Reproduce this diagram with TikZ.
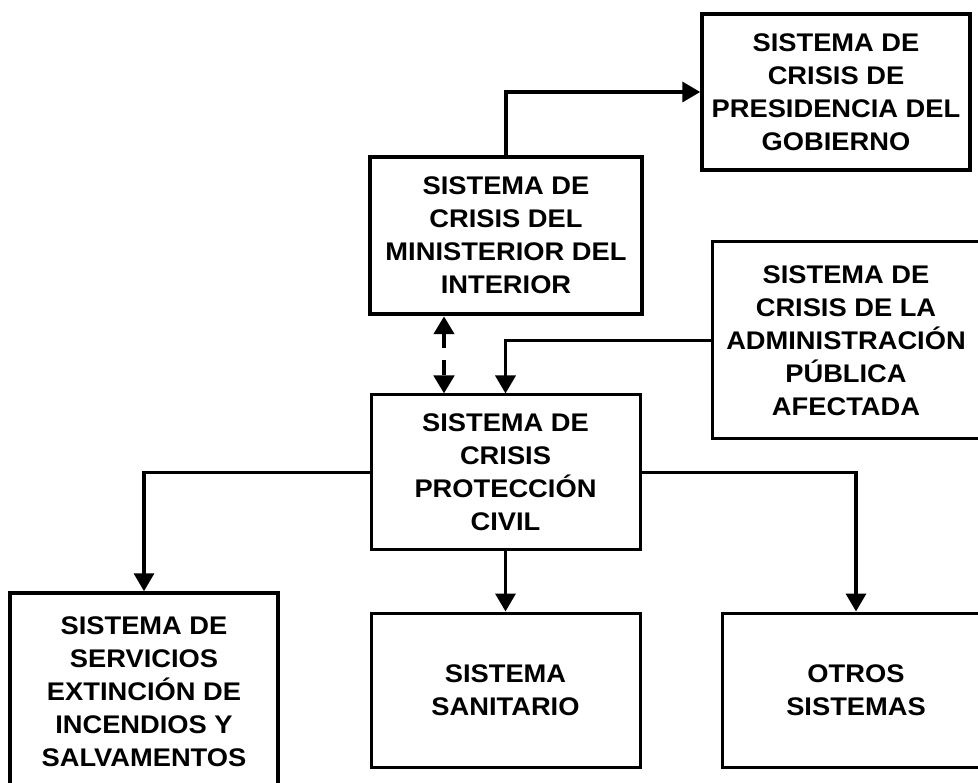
\documentclass[tikz,border=0pt]{standalone}
\usepackage{fontspec}
\setmainfont[FakeStretch=1.07]{Liberation Sans}
\usetikzlibrary{arrows.meta}
\begin{document}
\begin{tikzpicture}[x=1pt,y=-1pt,
  box/.style={draw=black,rectangle,line width=3pt,align=center,inner sep=0pt,
    font=\fontsize{25.5}{33}\selectfont\bfseries},
  conn/.style={line width=3.5pt,-{Triangle[width=20pt,length=18pt]}},
  dconn/.style={line width=4.5pt,dash pattern=on 15pt off 12pt,
    {Triangle[width=20pt,length=18pt]}-{Triangle[width=20pt,length=18pt]}}]
\useasboundingbox[fill=white] (0,0) rectangle (978,783);
\node[box,line width=3.5pt,minimum width=268pt,minimum height=156pt] (Pres) at (836,92)
  {SISTEMA DE\\CRISIS DE\\PRESIDENCIA DEL\\GOBIERNO};
\node[box,line width=4.5pt,minimum width=272pt,minimum height=157pt] (Min) at (506,235.5)
  {SISTEMA DE\\CRISIS DEL\\MINISTERIOR DEL\\INTERIOR};
\node[box,minimum width=268pt,minimum height=197pt] (Admin) at (846,340.5)
  {SISTEMA DE\\CRISIS DE LA\\ADMINISTRACIÓN\\PÚBLICA\\AFECTADA};
\node[box,minimum width=269pt,minimum height=155pt] (Prot) at (505.5,472.5)
  {SISTEMA DE\\CRISIS\\PROTECCIÓN\\CIVIL};
\node[box,line width=3.5pt,minimum width=268pt,minimum height=197pt] (Ext) at (144,691.5)
  {SISTEMA DE\\SERVICIOS\\EXTINCIÓN DE\\INCENDIOS Y\\SALVAMENTOS};
\node[box,minimum width=269pt,minimum height=154pt] (San) at (505.5,690)
  {SISTEMA\\SANITARIO};
\node[box,minimum width=268pt,minimum height=154pt] (Otros) at (856,690)
  {OTROS\\SISTEMAS};
\draw[conn] (Min.north) |- (Pres.west);
\draw[dconn] ([xshift=-62pt]Min.south) -- ([xshift=-62pt]Min.south |- Prot.north);
\draw[conn] (Admin.west) -| (Prot.north);
\draw[conn] (Prot.west) -| (Ext.north);
\draw[conn] (Prot.south) -- (San.north);
\draw[conn] (Prot.east) -| (Otros.north);
\end{tikzpicture}
\end{document}
